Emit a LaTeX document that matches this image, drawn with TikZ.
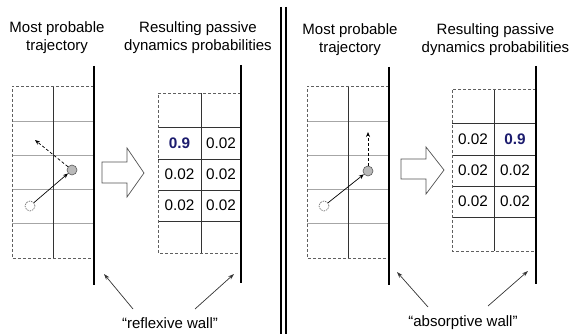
\documentclass[tikz,border=0pt]{standalone}
\usepackage{fontspec}
\setmainfont{Liberation Sans}
\usetikzlibrary{arrows.meta}
\definecolor{navy}{RGB}{28,28,110}
\begin{document}
\begin{tikzpicture}[x=1pt,y=-1pt,
  lbl/.style={font=\fontsize{15}{18}\selectfont, align=center, inner sep=0pt},
  num/.style={font=\fontsize{15.3}{16}\selectfont, inner sep=0pt},
  big/.style={num, font=\fontsize{15.3}{16}\selectfont\bfseries, text=navy},
  wall/.style={line width=2pt},
  border/.style={gray!75!black, line width=0.8pt, dash pattern=on 3pt off 2pt},
  vline/.style={black!80, line width=0.8pt},
  hline/.style={gray!70, line width=0.9pt},
  pline/.style={black!80, line width=0.8pt},
  blockarrow/.style={draw=gray!65!black, fill=white, line width=0.7pt},
  ptfull/.style={circle, draw=gray!70!black, fill=gray!55, minimum size=10pt, inner sep=0pt, line width=0.6pt},
  ptempty/.style={circle, draw=gray!70!black, dash pattern=on 1.5pt off 1pt, minimum size=10pt, inner sep=0pt, line width=0.6pt},
  move/.style={-{Stealth[length=5pt,width=4pt]}, line width=0.7pt},
  tip/.style={-{Stealth[length=6pt,width=4pt]}, line width=0.7pt, black!80},
]
\useasboundingbox (0,0) rectangle (571,334);

% ---------- separator ----------
\draw[line width=1.5pt] (281,7) -- (281,334);
\draw[line width=1.5pt] (286,7) -- (286,334);

% ---------- LEFT PANEL ----------
\node[lbl] (t1) at (57,38) {Most probable\\trajectory};
\node[lbl] (t2) at (198,38) {Resulting passive\\dynamics probabilities};

% trajectory grid
\foreach \y in {121,155,189,223} \draw[hline] (12,\y) -- (94,\y);
\draw[vline] (53,86) -- (53,258);
\draw[border] (94,86) -- (12,86) -- (12,258) -- (94,258);
\draw[wall] (94,66) -- (94,285);

\node[ptempty] (s1) at (30,206) {};
\node[ptfull] (p1) at (72,170) {};
\coordinate (r1) at (35,140);
\draw[move] (s1) -- (p1);
\draw[move, dash pattern=on 3pt off 2pt] (p1) -- (r1);

% block arrow
\draw[blockarrow] (102,162) -- (127,162) -- (127,148) -- (144,173) -- (127,197) -- (127,183) -- (102,183) -- cycle;

% probability grid
\foreach \y in {127,159,190,221} \draw[pline] (158,\y) -- (241,\y);
\draw[pline] (201,93) -- (201,253);
\draw[border] (241,93) -- (158,93) -- (158,253) -- (241,253);
\draw[wall] (241,65) -- (241,283);

\node[big] (a1) at (179.5,143) {0.9};
\node[num] (a2) at (221,143) {0.02};
\node[num] (a3) at (179.5,174.5) {0.02};
\node[num] (a4) at (221,174.5) {0.02};
\node[num] (a5) at (179.5,205.5) {0.02};
\node[num] (a6) at (221,205.5) {0.02};

\node[lbl] (c1) at (170,323) {“reflexive wall”};
\coordinate (w1) at (104,274);
\coordinate (w2) at (234,274);
\coordinate (f1) at (133,309);
\coordinate (f2) at (195,309);
\draw[tip] (f1) -- (w1);
\draw[tip] (f2) -- (w2);

% ---------- RIGHT PANEL ----------
\node[lbl] (t3) at (350,40) {Most probable\\trajectory};
\node[lbl] (t4) at (495.5,40) {Resulting passive\\dynamics probabilities};

\foreach \y in {121,155,189,223} \draw[hline] (307,\y) -- (389,\y);
\draw[vline] (348,86) -- (348,258);
\draw[border] (389,86) -- (307,86) -- (307,258) -- (389,258);
\draw[wall] (389,67) -- (389,285);

\node[ptempty] (s2) at (324,206) {};
\node[ptfull] (p2) at (368,171) {};
\coordinate (r2) at (368,132);
\draw[move] (s2) -- (p2);
\draw[move, dash pattern=on 3pt off 2pt] (p2) -- (r2);

\draw[blockarrow] (401,159) -- (426,159) -- (426,147) -- (444,170) -- (426,194) -- (426,179) -- (401,179) -- cycle;

\foreach \y in {123,155,186,217} \draw[pline] (452,\y) -- (536,\y);
\draw[pline] (494,89) -- (494,251);
\draw[border] (536,89) -- (452,89) -- (452,251) -- (536,251);
\draw[wall] (536,66) -- (536,284);

\node[num] (b1) at (473,139) {0.02};
\node[big] (b2) at (515,139) {0.9};
\node[num] (b3) at (473,170.5) {0.02};
\node[num] (b4) at (515,170.5) {0.02};
\node[num] (b5) at (473,201.5) {0.02};
\node[num] (b6) at (515,201.5) {0.02};

\node[lbl] (c2) at (463,323) {“absorptive wall”};
\coordinate (w3) at (397,272);
\coordinate (w4) at (528,271);
\coordinate (f3) at (428,307);
\coordinate (f4) at (488,306);
\draw[tip] (f3) -- (w3);
\draw[tip] (f4) -- (w4);
\end{tikzpicture}
\end{document}
